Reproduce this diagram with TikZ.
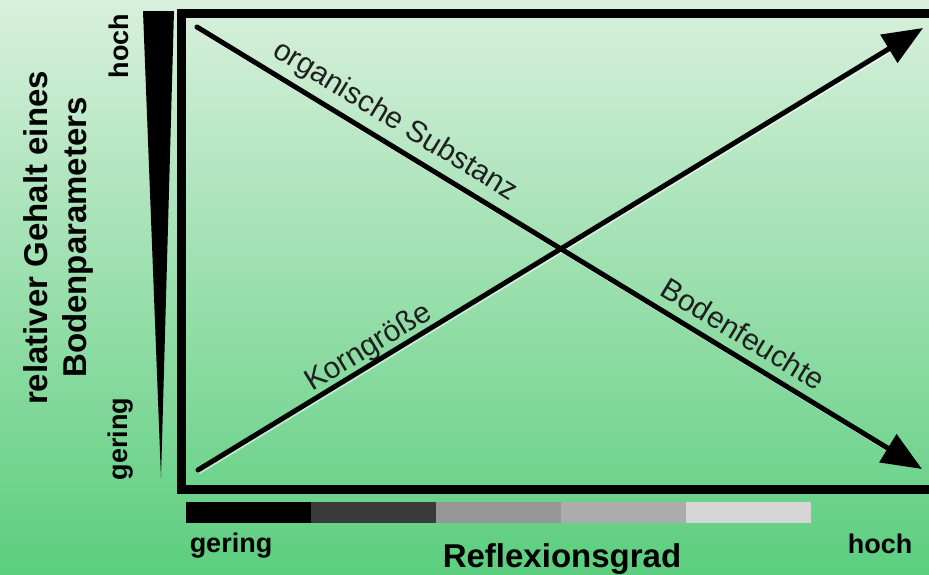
\documentclass[tikz,border=0pt]{standalone}
\usepackage{fontspec}
\setmainfont{Liberation Sans}
\usetikzlibrary{arrows.meta}
\definecolor{bgtop}{RGB}{216,240,220}
\definecolor{bgbot}{RGB}{92,206,126}
\definecolor{segA}{RGB}{0,0,0}
\definecolor{segB}{RGB}{58,58,58}
\definecolor{segC}{RGB}{151,151,151}
\definecolor{segD}{RGB}{172,172,172}
\definecolor{segE}{RGB}{214,214,214}
\begin{document}
\begin{tikzpicture}[x=1pt,y=-1pt,
  axistext/.style={font=\bfseries\fontsize{33}{36}\selectfont, inner sep=0pt, anchor=base},
  endtext/.style={font=\bfseries\fontsize{27}{30}\selectfont, inner sep=0pt, anchor=base},
  trendlbl/.style={font=\fontsize{30}{34}\selectfont, text=black!88, inner sep=0pt, anchor=base},
  trend/.style={line width=5pt, line cap=round, -{Triangle[length=40pt,width=32pt]}},
  trendshadow/.style={white, opacity=.55, line width=2pt, shorten >=42pt},
  frame/.style={line width=9pt, line join=miter}]
\useasboundingbox (0,0) rectangle (929,574);
\clip (0,0) rectangle (929,574);
% background
\shade[top color=bgtop, bottom color=bgbot] (0,0) rectangle (929,574);
% frame
\draw[frame] (181,13.5) rectangle (945,489);
% wedge
\fill[black] (143,11) -- (174,11) -- (161,478) -- cycle;
% left labels
\node[axistext, rotate=90] (rel) at (47,238) {relativer Gehalt eines};
\node[axistext, rotate=90] (bp) at (86,237.5) {Bodenparameters};
\node[endtext, rotate=90] (yhi) at (128,46) {hoch};
\node[endtext, rotate=90] (ylo) at (127.5,439) {gering};
% reflectance bar
\fill[segA] (186,502) rectangle (311,523);
\fill[segB] (311,502) rectangle (436,523);
\fill[segC] (436,502) rectangle (561,523);
\fill[segD] (561,502) rectangle (686,523);
\fill[segE] (686,502) rectangle (811,523);
\node[endtext] (xlo) at (231,552) {gering};
\node[endtext] (xhi) at (880,553) {hoch};
\node[axistext] (refl) at (562,567) {Reflexionsgrad};
% trend lines
\coordinate (o1) at (197,27);
\coordinate (o2) at (922,469);
\coordinate (k1) at (198,470);
\coordinate (k2) at (923,28);
\draw[trendshadow] ([shift={(1,3)}]o1) -- ([shift={(1,3)}]o2);
\draw[trendshadow] ([shift={(1.5,3)}]k1) -- ([shift={(1.5,3)}]k2);
\draw[trend] (o1) -- (o2);
\draw[trend] (k1) -- (k2);
\node[trendlbl, rotate=-31.4] (org) at (391,128) {organische Substanz};
\node[trendlbl, rotate=31.4] (korn) at (373,354.6) {Korngröße};
\node[trendlbl, rotate=-31.4] (feu) at (737.5,343) {Bodenfeuchte};
\end{tikzpicture}
\end{document}
